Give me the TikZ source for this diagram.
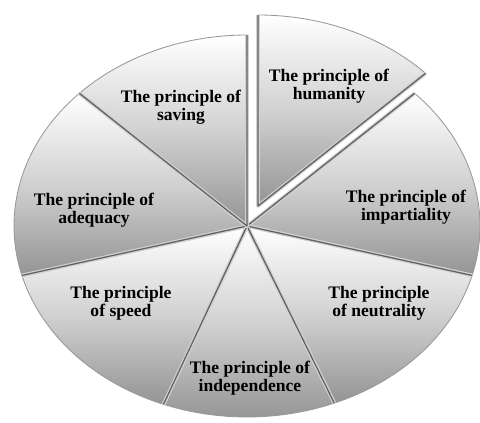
\documentclass[tikz,border=0pt]{standalone}
\usepackage{fontspec}
\setmainfont{Liberation Serif}
\usetikzlibrary{calc}
\def\rx{5.825}
\def\ry{4.775}
\def\pieslice(#1)(#2:#3){%
  \shade[slice] (#1) -- ($(#1)+(#2:\rx cm and \ry cm)$) arc[start angle=#2, end angle=#3, x radius=\rx cm, y radius=\ry cm] -- cycle;
  \draw[rim] ($(#1)+(#2:\rx cm and \ry cm)$) arc[start angle=#2, end angle=#3, x radius=\rx cm, y radius=\ry cm];
  \draw[spokeshadow] ($(#1)+(#2:\rx cm and \ry cm)$) -- (#1) -- ($(#1)+(#3:\rx cm and \ry cm)$);
  \draw[spoke] ($(#1)+(#2:\rx cm and \ry cm)$) -- (#1) -- ($(#1)+(#3:\rx cm and \ry cm)$);}
\tikzset{
  slice/.style={top color=white, bottom color=black!42, middle color=black!18},
  rim/.style={line width=0.6pt, color=black!40},
  spoke/.style={line width=0.9pt, color=black!62, line join=round},
  spokeshadow/.style={line width=2.6pt, color=black!18, line join=round},
  principle/.style={font=\bfseries\fontsize{12.5}{12.8}\selectfont, align=center, inner sep=1pt}
}
\begin{document}
\begin{tikzpicture}
			%%%%% START %%%%%
			\useasboundingbox[fill=white] (0, 0) rectangle (12, 10.55);
			
			\coordinate (c) at (6.175, 4.9);
			\coordinate (ch) at (6.45, 5.4);
			
			\pieslice(c)(-15:44)
			\pieslice(c)(-68:-15)
			\pieslice(c)(-111:-68)
			\pieslice(c)(195:249)
			\pieslice(c)(136:195)
			\pieslice(c)(90:136)
			\pieslice(ch)(44:90)
			
			\node[principle] (humanity) at (8.225, 8.4) {The principle of\\humanity};
			\node[principle] (saving) at (4.525, 7.88) {The principle of\\saving};
			\node[principle] (impartiality) at (10.15, 5.38) {The principle of\\impartiality};
			\node[principle] (adequacy) at (2.35, 5.3) {The principle of\\adequacy};
			\node[principle] (speed) at (3.025, 2.98) {The principle\\of speed};
			\node[principle] (neutrality) at (9.475, 2.98) {The principle\\of neutrality};
			\node[principle] (independence) at (6.25, 1.1) {The principle of\\independence};
			
			%%%%% END %%%%%
\end{tikzpicture}
\end{document}
